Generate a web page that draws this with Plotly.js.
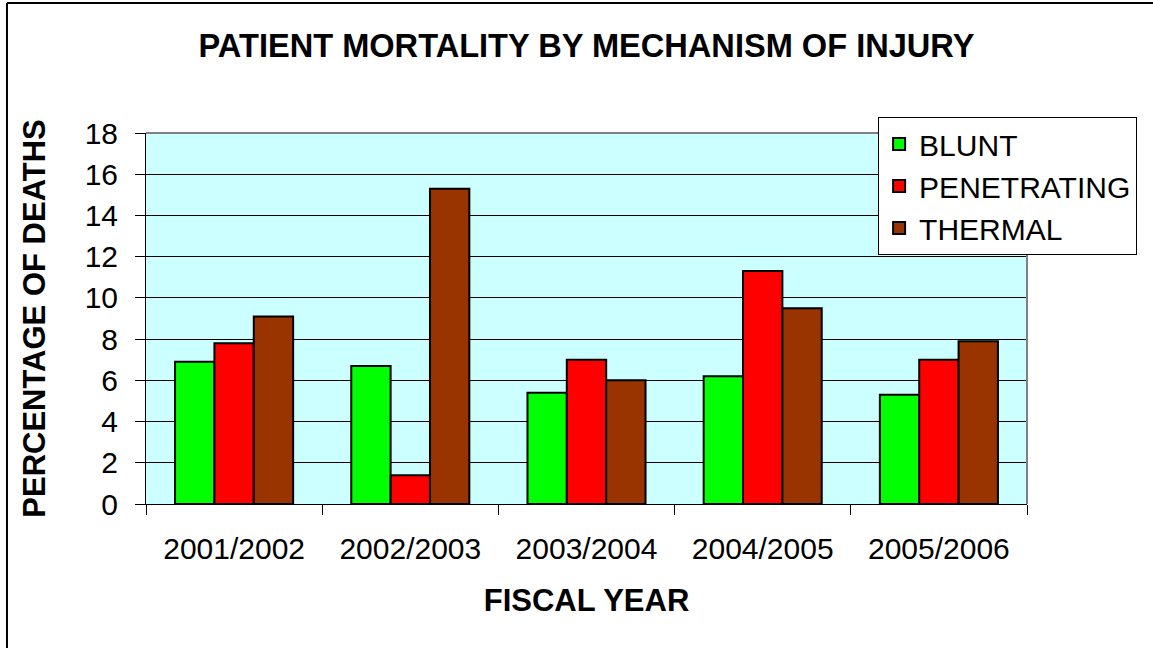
<!DOCTYPE html>
<html>
<head>
<meta charset="utf-8">
<script src="https://cdn.plot.ly/plotly-3.0.1.min.js"></script>
<style>html,body{margin:0;padding:0;background:#fff;}#chart{width:1153px;height:648px;}</style>
</head>
<body>
<div id="chart"></div>
<script>
const fiscalYears = ["2001/2002", "2002/2003", "2003/2004", "2004/2005", "2005/2006"];
const blunt = [6.9, 6.7, 5.4, 6.2, 5.3];
const penetrating = [7.8, 1.4, 7.0, 11.3, 7.0];
const thermal = [9.1, 15.3, 6.0, 9.5, 7.9];
const yTicks = [0, 2, 4, 6, 8, 10, 12, 14, 16, 18];

const FONT = "Liberation Sans, Arial, sans-serif";
const line = {color: "#000000", width: 2};

const traces = [
  {type: "bar", name: "BLUNT", x: fiscalYears, y: blunt, marker: {color: "#00FF00", line: line}},
  {type: "bar", name: "PENETRATING", x: fiscalYears, y: penetrating, marker: {color: "#FF0000", line: line}},
  {type: "bar", name: "THERMAL", x: fiscalYears, y: thermal, marker: {color: "#993300", line: line}}
];

const layout = {
  width: 1153, height: 648,
  margin: {l: 146, r: 126, t: 133, b: 144, pad: 0},
  paper_bgcolor: "#ffffff",
  plot_bgcolor: "#CCFFFF",
  font: {family: FONT, color: "#000000", size: 30},
  showlegend: true,
  barmode: "group",
  bargap: 0.33,
  bargroupgap: 0,
  hovermode: false,
  title: {
    text: "<b>PATIENT MORTALITY BY MECHANISM OF INJURY</b>",
    font: {family: FONT, size: 32.6, color: "#000000"},
    x: 0.5, xref: "paper", xanchor: "center",
    y: 0.929, yref: "container", yanchor: "middle"
  },
  xaxis: {
    type: "category",
    showgrid: false,
    zeroline: false,
    showline: true, linecolor: "#000000", linewidth: 1,
    ticks: "outside", tickson: "boundaries", ticklen: 10, tickcolor: "#000000", tickwidth: 1,
    tickfont: {family: FONT, size: 30, color: "#000000"},
    ticklabelstandoff: 18,
    title: {text: "<b>FISCAL YEAR</b>", font: {family: FONT, size: 31, color: "#000000"}, standoff: 25}
  },
  yaxis: {
    range: [0, 18],
    tickvals: yTicks,
    ticktext: yTicks.map(String),
    showgrid: true, gridcolor: "#000000", gridwidth: 1,
    zeroline: false,
    showline: true, linecolor: "#000000", linewidth: 1,
    ticks: "outside", ticklen: 10, tickcolor: "#000000", tickwidth: 1,
    tickfont: {family: FONT, size: 30, color: "#000000"},
    ticklabelstandoff: 11,
    title: {text: "<b>PERCENTAGE OF DEATHS</b>", font: {family: FONT, size: 31, color: "#000000"}, standoff: 29}
  },
  legend: {
    x: 0.831, xanchor: "left",
    y: 1.043, yanchor: "top",
    bgcolor: "#ffffff",
    bordercolor: "#000000",
    borderwidth: 1,
    font: {family: FONT, size: 30, color: "#000000"},
    itemwidth: 30,
    tracegroupgap: 0
  },
  shapes: [
    {type: "line", xref: "paper", yref: "paper", x0: 0, x1: 1, y0: 1, y1: 1, line: {color: "#808080", width: 2}},
    {type: "line", xref: "paper", yref: "paper", x0: 1, x1: 1, y0: 0, y1: 1, line: {color: "#808080", width: 2}},
    {type: "line", xref: "paper", yref: "paper", x0: -0.1578, x1: -0.1578, y0: 1.3504, y1: -0.40, line: {color: "#000000", width: 2}},
    {type: "line", xref: "paper", yref: "paper", x0: -0.1578, x1: 1.15, y0: 1.3504, y1: 1.3504, line: {color: "#000000", width: 2}}
  ]
};

Plotly.newPlot("chart", traces, layout, {displayModeBar: false, staticPlot: true});
</script>
</body>
</html>
